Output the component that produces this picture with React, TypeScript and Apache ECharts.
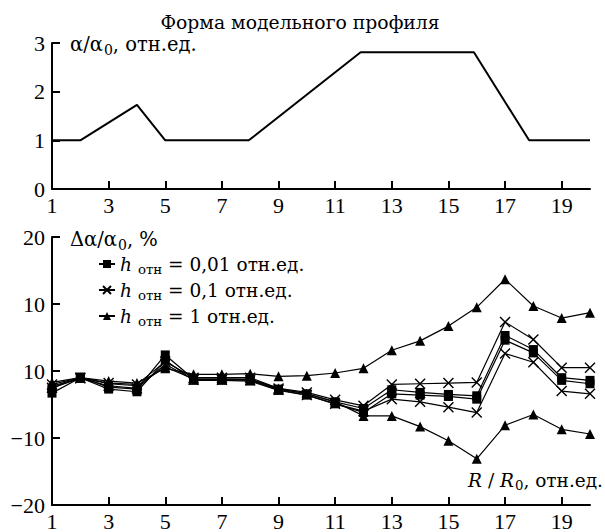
import React, { useEffect, useRef } from "react";
import * as echarts from "echarts";

// ---------- data ----------
const xTicks = [1, 3, 5, 7, 9, 11, 13, 15, 17, 19];
const profileX = [1, 2, 4, 5, 7.95, 11.9, 15.9, 17.85, 20];
const profileY = [1, 1, 1.73, 1, 1, 2.81, 2.81, 1, 1];

const rValues = [1, 2, 3, 4, 5, 6, 7, 8, 9, 10, 11, 12, 13, 14, 15, 16, 17, 18, 19, 20];
const sqUpper = [-2.6, -0.9, -2.4, -2.7, 2.4, -1.2, -1.2, -1.2, -2.7, -3.4, -4.6, -5.6, -2.8, -3.2, -3.5, -3.7, 5.3, 3.2, -1.0, -1.4];
const sqLower = [-3.3, -1.0, -2.7, -3.1, 1.6, -1.4, -1.4, -1.5, -2.9, -3.6, -4.9, -6.2, -3.4, -3.6, -3.8, -4.2, 4.6, 2.7, -1.4, -1.9];
const crUpper = [-2.0, -1.0, -1.8, -2.0, 1.4, -1.0, -1.0, -1.0, -2.6, -3.2, -4.3, -5.2, -2.0, -1.9, -1.8, -1.7, 7.3, 4.7, 0.5, 0.5];
const crLower = [-2.5, -1.1, -2.2, -2.6, 1.0, -1.3, -1.3, -1.4, -2.8, -3.6, -4.9, -6.0, -4.2, -4.6, -5.4, -6.2, 2.6, 1.3, -3.0, -3.4];
const trUpper = [-1.7, -1.0, -1.5, -1.8, 0.4, -0.5, -0.5, -0.4, -0.8, -0.7, -0.3, 0.4, 3.1, 4.5, 6.7, 9.5, 13.7, 9.7, 7.9, 8.7];
const trLower = [-2.3, -1.0, -1.9, -2.2, 0.6, -1.2, -1.2, -1.3, -2.6, -3.4, -4.6, -6.7, -6.7, -8.3, -10.4, -13.1, -8.1, -6.5, -8.7, -9.4];

const legendNames = ["h001", "h01", "h1"];
const legendValues = ["0,01", "0,1", "1"];

const NUM_FONT = "Liberation Serif";
const TEXT_FONT = "DejaVu Serif";
const BLACK = "#000";

const pairs = (xs: number[], ys: number[]) => xs.map((x, i) => [x, ys[i]]);

const CROSS = "path://M0,0L10,10M10,0L0,10";

export default function App() {
  const ref = useRef<HTMLDivElement>(null);

  useEffect(() => {
    if (!ref.current) return;
    const chart = echarts.init(ref.current, undefined, { renderer: "svg" });

    const axisLine = { show: true, onZero: false, lineStyle: { color: BLACK, width: 2 } };
    const tickStyle = { color: BLACK, width: 2 };
    const labelBase = { color: BLACK, fontFamily: NUM_FONT, fontSize: 22 };

    const xAxis = (gridIndex: number) => ({
      type: "value",
      gridIndex,
      min: 1,
      max: 20,
      axisLine,
      axisTick: { show: true, inside: true, length: 8, lineStyle: tickStyle, customValues: xTicks },
      axisLabel: { ...labelBase, margin: 5, customValues: xTicks },
      splitLine: { show: false },
    });

    const lowerSeries = (name: string, ys: number[], symbol: string, size: number, cross = false) => ({
      type: "line",
      name,
      xAxisIndex: 1,
      yAxisIndex: 1,
      data: pairs(rValues, ys),
      symbol,
      symbolSize: size,
      showSymbol: true,
      lineStyle: { color: BLACK, width: 1.2 },
      itemStyle: cross
        ? { color: BLACK, borderColor: BLACK, borderWidth: 1.4 }
        : { color: BLACK, borderWidth: 0 },
    });

    const mk = (size: number) => ({
      main: { fontFamily: TEXT_FONT, fontSize: size, color: BLACK, lineHeight: 22 },
      ital: { fontFamily: TEXT_FONT, fontSize: size, color: BLACK, lineHeight: 22, fontStyle: "italic" },
      sub: { fontFamily: TEXT_FONT, fontSize: size * 0.72, color: BLACK, lineHeight: 22, padding: [11, 0, 0, 1] },
    });
    const t20 = mk(19.5);
    const tLeg = mk(18.5);
    const tR = mk(18.5);

    chart.setOption({
      animation: false,
      backgroundColor: "#fff",
      grid: [
        { left: 52, right: 15, top: 43, height: 146 },
        { left: 52, right: 15, top: 237, height: 269 },
      ],
      xAxis: [xAxis(0), xAxis(1)],
      yAxis: [
        {
          type: "value",
          gridIndex: 0,
          min: 0,
          max: 3,
          interval: 1,
          axisLine,
          axisTick: { show: true, inside: true, length: 8, lineStyle: tickStyle },
          axisLabel: { ...labelBase, margin: 7 },
          splitLine: { show: false },
        },
        {
          type: "value",
          gridIndex: 1,
          min: -20,
          max: 20,
          interval: 10,
          axisLine,
          axisTick: { show: true, inside: true, length: 8, lineStyle: tickStyle },
          axisLabel: {
            ...labelBase,
            margin: 7,
            formatter: (v: number) => (v === 0 ? "10" : String(v).replace("-", "\u2212")),
          },
          splitLine: { show: false },
        },
      ],
      legend: {
        data: legendNames,
        orient: "vertical",
        left: 93,
        top: 247,
        itemGap: 2,
        itemWidth: 16,
        itemHeight: 10,
        formatter: (name: string) =>
          `{h|h}{s|отн}{t| = ${legendValues[legendNames.indexOf(name)]} отн.ед.}`,
        textStyle: {
          fontFamily: TEXT_FONT,
          fontSize: 18.5,
          color: BLACK,
          rich: { h: tLeg.ital, s: { ...tLeg.sub, padding: [11, 0, 0, 6] }, t: tLeg.main },
        },
      },
      graphic: [
        {
          type: "text",
          x: 300,
          y: 22,
          style: {
            text: "Форма модельного профиля",
            fontFamily: TEXT_FONT,
            fontSize: 18.8,
            fill: BLACK,
            align: "center",
            verticalAlign: "middle",
          },
        },
        {
          type: "text",
          x: 70,
          y: 44,
          style: {
            text: "{a|α/α}{s|0}{a|, отн.ед.}",
            align: "left",
            verticalAlign: "middle",
            rich: { a: t20.main, s: t20.sub },
          },
        },
        {
          type: "text",
          x: 70,
          y: 239,
          style: {
            text: "{a|Δα/α}{s|0}{a|, %}",
            align: "left",
            verticalAlign: "middle",
            rich: { a: t20.main, s: t20.sub },
          },
        },
        {
          type: "text",
          x: 603,
          y: 480,
          style: {
            text: "{i|R}{a| / }{i|R}{s|0}{a|, отн.ед.}",
            align: "right",
            verticalAlign: "middle",
            rich: { a: tR.main, i: tR.ital, s: tR.sub },
          },
        },
      ],
      series: [
        {
          type: "line",
          xAxisIndex: 0,
          yAxisIndex: 0,
          data: pairs(profileX, profileY),
          showSymbol: false,
          symbol: "none",
          lineStyle: { color: BLACK, width: 2 },
        },
        lowerSeries("h001", sqUpper, "rect", 9),
        lowerSeries("h001", sqLower, "rect", 9),
        lowerSeries("h01", crUpper, CROSS, 10, true),
        lowerSeries("h01", crLower, CROSS, 10, true),
        lowerSeries("h1", trUpper, "triangle", 10),
        lowerSeries("h1", trLower, "triangle", 10),
      ],
    });

    return () => chart.dispose();
  }, []);

  return (
    <div
      ref={ref}
      style={{ position: "fixed", left: 0, top: 0, width: 605, height: 532, background: "#fff" }}
    />
  );
}
